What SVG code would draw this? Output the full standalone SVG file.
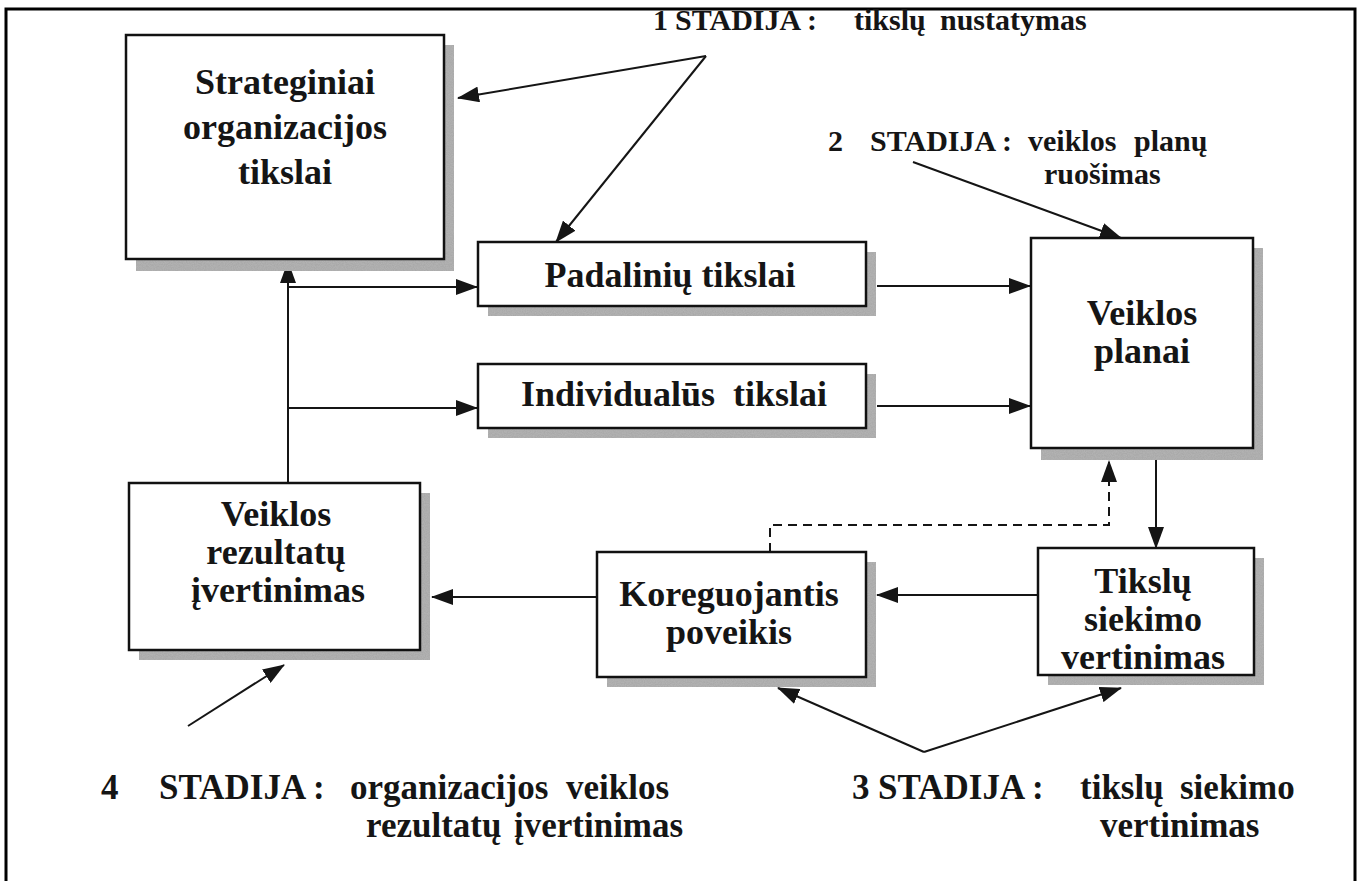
<svg xmlns="http://www.w3.org/2000/svg" width="1361" height="881" viewBox="0 0 1361 881">
  <defs>
    <style>
      .box { fill: #ffffff; stroke: #111111; stroke-width: 2.5; }
      .shadow { fill: #a9a9a9; filter: url(#grain); }
      .t { font-family: "Liberation Serif", "Times New Roman", serif; font-weight: bold; fill: #151515; text-anchor: middle; font-size: 36px; }
      .lbl { font-family: "Liberation Serif", "Times New Roman", serif; font-weight: bold; fill: #151515; font-size: 30px; }
      .lbl-lg { font-size: 35px; }
      .conn { fill: none; stroke: #151515; stroke-width: 2; }
      .dash { fill: none; stroke: #151515; stroke-width: 2; stroke-dasharray: 9 6; }
    </style>
    <filter id="grain" x="0" y="0" width="100%" height="100%">
      <feTurbulence type="fractalNoise" baseFrequency="0.9" numOctaves="2" seed="3" result="noise"/>
      <feColorMatrix in="noise" type="matrix" values="0 0 0 0 0.45  0 0 0 0 0.45  0 0 0 0 0.45  0 0 0 -1.6 1.3" result="speck"/>
      <feComposite in="speck" in2="SourceGraphic" operator="in" result="clip"/>
      <feMerge><feMergeNode in="SourceGraphic"/><feMergeNode in="clip"/></feMerge>
    </filter>
    <marker id="ah" viewBox="0 0 22 16" refX="21" refY="8" markerWidth="22" markerHeight="16" markerUnits="userSpaceOnUse" orient="auto">
      <path d="M0,0 L22,8 L0,16 Z" fill="#151515"/>
    </marker>
  </defs>

  <!-- page frame -->
  <rect x="6" y="9" width="1349" height="890" fill="none" stroke="#000000" stroke-width="3"/>

  <!-- connectors -->
  <g id="connectors">
    <!-- stage 1 pointers -->
    <line class="conn" x1="706" y1="56" x2="458" y2="98" marker-end="url(#ah)"/>
    <line class="conn" x1="706" y1="56" x2="556" y2="242" marker-end="url(#ah)"/>
    <!-- stage 2 pointer -->
    <line class="conn" x1="913" y1="162" x2="1121" y2="238" marker-end="url(#ah)"/>
    <!-- feedback trunk up to strategic goals -->
    <line class="conn" x1="288" y1="483" x2="288" y2="262" marker-end="url(#ah)"/>
    <line class="conn" x1="288" y1="287" x2="477" y2="287" marker-end="url(#ah)"/>
    <line class="conn" x1="288" y1="408" x2="477" y2="408" marker-end="url(#ah)"/>
    <!-- goals into plans -->
    <line class="conn" x1="877" y1="286" x2="1030" y2="286" marker-end="url(#ah)"/>
    <line class="conn" x1="877" y1="406" x2="1030" y2="406" marker-end="url(#ah)"/>
    <!-- plans down to assessment -->
    <line class="conn" x1="1156" y1="458" x2="1156" y2="548" marker-end="url(#ah)"/>
    <!-- assessment to corrective action -->
    <line class="conn" x1="1038" y1="595" x2="877" y2="595" marker-end="url(#ah)"/>
    <!-- corrective action to results evaluation -->
    <line class="conn" x1="597" y1="597" x2="432" y2="597" marker-end="url(#ah)"/>
    <!-- corrective action back to plans (dashed) -->
    <polyline class="dash" points="770,552 770,525 1109,525 1109,461" marker-end="url(#ah)"/>
    <!-- stage 3 pointers -->
    <line class="conn" x1="924" y1="752" x2="778" y2="688" marker-end="url(#ah)"/>
    <line class="conn" x1="924" y1="752" x2="1121" y2="688" marker-end="url(#ah)"/>
    <!-- stage 4 pointer -->
    <line class="conn" x1="188" y1="726" x2="284" y2="665" marker-end="url(#ah)"/>
  </g>

  <g id="strateginiai">
    <rect class="shadow" x="136" y="45" width="318" height="226"/>
    <rect class="box" x="126" y="35" width="318" height="224"/>
    <text class="t" x="285" y="94">Strateginiai</text>
    <text class="t" x="285" y="139">organizacijos</text>
    <text class="t" x="285" y="184">tikslai</text>
  </g>

  <g id="padaliniu">
    <rect class="shadow" x="488" y="252" width="388" height="64"/>
    <rect class="box" x="478" y="242" width="388" height="64"/>
    <text class="t" x="670" y="287">Padalinių tikslai</text>
  </g>

  <g id="individualus">
    <rect class="shadow" x="488" y="374" width="388" height="64"/>
    <rect class="box" x="478" y="364" width="388" height="64"/>
    <text class="t" x="674" y="406" xml:space="preserve">Individualūs  tikslai</text>
  </g>

  <g id="veiklos-planai">
    <rect class="shadow" x="1041" y="248" width="222" height="212"/>
    <rect class="box" x="1031" y="238" width="222" height="210"/>
    <text class="t" x="1142" y="325">Veiklos</text>
    <text class="t" x="1142" y="363">planai</text>
  </g>

  <g id="rezultatu-vertinimas">
    <rect class="shadow" x="139" y="493" width="291" height="167"/>
    <rect class="box" x="129" y="483" width="291" height="167"/>
    <text class="t" x="276" y="526">Veiklos</text>
    <text class="t" x="276" y="564">rezultatų</text>
    <text class="t" x="278" y="602">įvertinimas</text>
  </g>

  <g id="koreguojantis">
    <rect class="shadow" x="607" y="562" width="269" height="125"/>
    <rect class="box" x="597" y="552" width="269" height="125"/>
    <text class="t" x="729" y="606">Koreguojantis</text>
    <text class="t" x="729" y="644">poveikis</text>
  </g>

  <g id="tikslu-siekimo">
    <rect class="shadow" x="1048" y="558" width="216" height="127"/>
    <rect class="box" x="1038" y="548" width="216" height="127"/>
    <text class="t" x="1143" y="593">Tikslų</text>
    <text class="t" x="1143" y="631">siekimo</text>
    <text class="t" x="1143" y="669">vertinimas</text>
  </g>

  <g id="stadija-1">
    <text class="lbl" y="30"><tspan x="653">1</tspan><tspan x="675">STADIJA :</tspan><tspan x="854">tikslų</tspan><tspan x="940">nustatymas</tspan></text>
  </g>

  <g id="stadija-2">
    <text class="lbl" y="151"><tspan x="828">2</tspan><tspan x="870">STADIJA :</tspan><tspan x="1028">veiklos</tspan><tspan x="1134">planų</tspan></text>
    <text class="lbl" x="1044" y="184">ruošimas</text>
  </g>

  <g id="stadija-3">
    <text class="lbl lbl-lg" y="799"><tspan x="852">3</tspan><tspan x="878">STADIJA :</tspan><tspan x="1080">tikslų</tspan><tspan x="1180">siekimo</tspan></text>
    <text class="lbl lbl-lg" x="1100" y="837">vertinimas</text>
  </g>

  <g id="stadija-4">
    <text class="lbl lbl-lg" y="799"><tspan x="101">4</tspan><tspan x="159">STADIJA :</tspan><tspan x="350">organizacijos</tspan><tspan x="566">veiklos</tspan></text>
    <text class="lbl lbl-lg" y="837"><tspan x="366">rezultatų</tspan><tspan x="514">įvertinimas</tspan></text>
  </g>
</svg>
